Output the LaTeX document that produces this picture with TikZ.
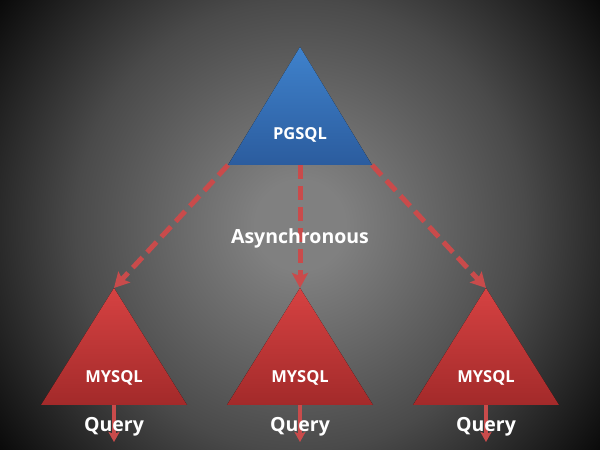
\documentclass[tikz,border=0pt]{standalone}
\usepackage{fontspec}
\setmainfont{Open Sans}
\usepackage{tikz}
\usetikzlibrary{calc, arrows.meta}
\usepackage{tkz-euclide}

\definecolor{bgmid}{HTML}{808080}
\definecolor{bgtop}{HTML}{4A4A4A}
\definecolor{bgside}{HTML}{2A2A2A}
\definecolor{bgcorner}{HTML}{0A0A0A}
\definecolor{pgtop}{HTML}{3F82CC}
\definecolor{pgbot}{HTML}{2B5C9E}
\definecolor{mytop}{HTML}{D64242}
\definecolor{mybot}{HTML}{A32A2A}
\definecolor{linkred}{HTML}{C94B4B}

\pgfdeclareradialshading{backdrop}{\pgfpoint{0bp}{0bp}}{%
  color(0bp)=(bgmid); color(3bp)=(bgmid); color(15bp)=(bgtop);
  color(20bp)=(bgside); color(25bp)=(bgcorner); color(50bp)=(bgcorner)}

\tikzset{
  dbname/.style={text=white, font=\bfseries\fontsize{16.5}{16.5}\selectfont},
  caption/.style={text=white, font=\bfseries\fontsize{19.5}{19.5}\selectfont},
  replica/.style={draw=linkred, line width=5pt, dash pattern=on 14pt off 7pt,
    -{Stealth[length=15pt, width=16pt, inset=3pt]}},
  queryline/.style={draw=linkred, line width=4pt,
    -{Stealth[length=10pt, width=11pt, inset=2pt]}}
}

\begin{document}
\begin{tikzpicture}[x=1pt, y=1pt]
                \useasboundingbox (0,0) rectangle (600,450);
                \begin{scope}
                \clip (0,0) rectangle (600,450);
                \shade[shading=backdrop] (300,225) circle (375);
                \end{scope}
                \tkzDefPoints{300/403/P_top, 228/285/P_left, 372/285/P_right, 300/285/P_base}
                \tkzDefPoints{114/162/A_top, 41/45/A_left, 187/45/A_right, 114/45/A_base, 114/8/A_end}
                \tkzDefPoints{300/162/B_top, 227/45/B_left, 373/45/B_right, 300/45/B_base, 300/8/B_end}
                \tkzDefPoints{486/162/C_top, 413/45/C_left, 559/45/C_right, 486/45/C_base, 486/8/C_end}
                % triangles
                \fill[top color=pgtop, bottom color=pgbot] (P_top) -- (P_left) -- (P_right) -- cycle;
                \foreach \t in {A,B,C}
                    \fill[top color=mytop, bottom color=mybot] (\t_top) -- (\t_left) -- (\t_right) -- cycle;
                % links
                \draw[replica] (P_left) -- (A_top);
                \draw[replica] (P_base) -- (B_top);
                \draw[replica] (P_right) -- (C_top);
                \foreach \t in {A,B,C}
                    \draw[queryline] (\t_base) -- (\t_end);
                % labels
                \node[dbname] (pglabel) at (300,315) {PGSQL};
                \foreach \t in {A,B,C}
                    \node[dbname] (\t label) at ($(\t_base)+(0,27)$) {MYSQL};
                \node[caption] (async) at (300,212) {Asynchronous};
                \foreach \t in {A,B,C}
                    \node[caption] (\t query) at ($(\t_base)+(0,-22)$) {Query};
            \end{tikzpicture}
\end{document}
